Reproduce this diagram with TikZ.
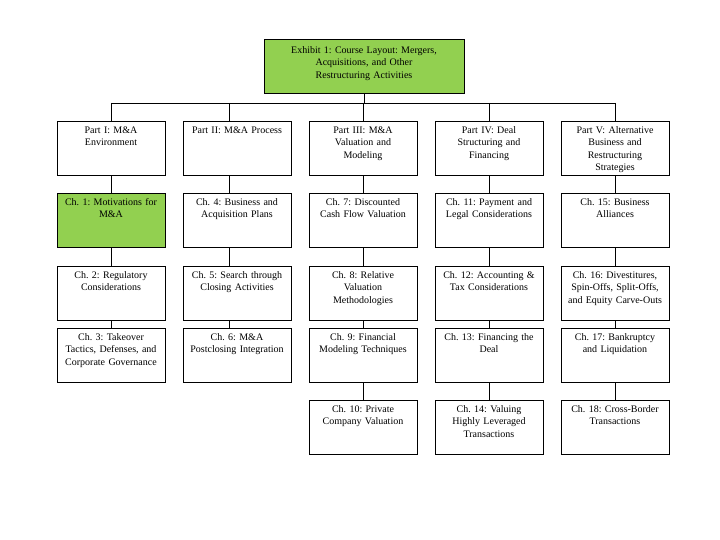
\documentclass[tikz,border=0pt]{standalone}
\usepackage{fontspec}
\setmainfont{Liberation Serif}
\usepackage{xcolor}
\usepackage{tikz}
\usetikzlibrary{positioning,calc}

\definecolor{exgreen}{HTML}{92D050}

\begin{document}
\begin{tikzpicture}[
    x=1pt, y=-1pt,
    box/.style={draw, line width=0.8pt, anchor=north, text width=104pt, inner xsep=2pt, inner ysep=5pt,
        text height=7pt, text depth=37pt, align=center, font=\fontsize{10}{12.5}\selectfont\frenchspacing},
    topbox/.style={box, fill=exgreen, text width=196pt, text height=9pt, text depth=35pt},
    link/.style={line width=0.8pt}
]
\useasboundingbox (0,0) rectangle (720,540);

% Title box
\node[topbox] (exhibit) at (364, 39) {Exhibit 1: Course Layout: Mergers,\\Acquisitions, and Other\\Restructuring Activities};
\coordinate (bus) at (363, 103);

% Parts
\node[box] (p1) at (111, 121) {Part I: M\&A\\Environment};
\node[box] (p2) at (237, 121) {Part II: M\&A Process};
\node[box] (p3) at (363, 121) {Part III: M\&A\\Valuation and\\Modeling};
\node[box] (p4) at (489, 121) {Part IV: Deal\\Structuring and\\Financing};
\node[box] (p5) at (615, 121) {Part V: Alternative\\Business and\\Restructuring\\Strategies};

% Column 1
\node[box, fill=exgreen] (c1) at (111, 193) {Ch. 1: Motivations for\\M\&A};
\node[box] (c2) at (111, 266) {Ch. 2: Regulatory\\Considerations};
\node[box] (c3) at (111, 328) {Ch. 3: Takeover\\Tactics, Defenses, and\\Corporate Governance};

% Column 2
\node[box] (c4) at (237, 193) {Ch. 4: Business and\\Acquisition Plans};
\node[box] (c5) at (237, 266) {Ch. 5: Search through\\Closing Activities};
\node[box] (c6) at (237, 328) {Ch. 6: M\&A\\Postclosing Integration};

% Column 3
\node[box] (c7) at (363, 193) {Ch. 7: Discounted\\Cash Flow Valuation};
\node[box] (c8) at (363, 266) {Ch. 8: Relative\\Valuation\\Methodologies};
\node[box] (c9) at (363, 328) {Ch. 9: Financial\\Modeling Techniques};
\node[box] (c10) at (363, 400) {Ch. 10: Private\\Company Valuation};

% Column 4
\node[box] (c11) at (489, 193) {Ch. 11: Payment and\\Legal Considerations};
\node[box] (c12) at (489, 266) {Ch. 12: Accounting \&\\Tax Considerations};
\node[box] (c13) at (489, 328) {Ch. 13: Financing the\\Deal};
\node[box] (c14) at (489, 400) {Ch. 14: Valuing\\Highly Leveraged\\Transactions};

% Column 5
\node[box] (c15) at (615, 193) {Ch. 15: Business\\Alliances};
\node[box] (c16) at (615, 266) {Ch. 16: Divestitures,\\Spin-Offs, Split-Offs,\\and Equity Carve-Outs};
\node[box] (c17) at (615, 328) {Ch. 17: Bankruptcy\\and Liquidation};
\node[box] (c18) at (615, 400) {Ch. 18: Cross-Border\\Transactions};

% Tree lines
\draw[link] (exhibit.south) -- (exhibit.south |- bus);
\draw[link] (p1.north |- bus) -- (p5.north |- bus);
\draw[link] (p1.north |- bus) -- (p1.north);
\draw[link] ([xshift=-8pt]p2.north |- bus) -- ([xshift=-8pt]p2.north);
\draw[link] (p3.north |- bus) -- (p3.north);
\draw[link] (p4.north |- bus) -- (p4.north);
\draw[link] (p5.north |- bus) -- (p5.north);

% Column links
\draw[link] (p1.south) -- (c1.north) (c1.south) -- (c2.north) (c2.south) -- (c3.north);
\draw[link] ([xshift=-8pt]p2.south) -- ([xshift=-8pt]c4.north) ([xshift=-8pt]c4.south) -- ([xshift=-8pt]c5.north)
    ([xshift=-8pt]c5.south) -- ([xshift=-8pt]c6.north);
\draw[link] (p3.south) -- (c7.north) (c7.south) -- (c8.north) (c8.south) -- (c9.north) (c9.south) -- (c10.north);
\draw[link] (p4.south) -- (c11.north) (c11.south) -- (c12.north) (c12.south) -- (c13.north) (c13.south) -- (c14.north);
\draw[link] (p5.south) -- (c15.north) (c15.south) -- (c16.north) (c16.south) -- (c17.north) (c17.south) -- (c18.north);

\end{tikzpicture}
\end{document}
